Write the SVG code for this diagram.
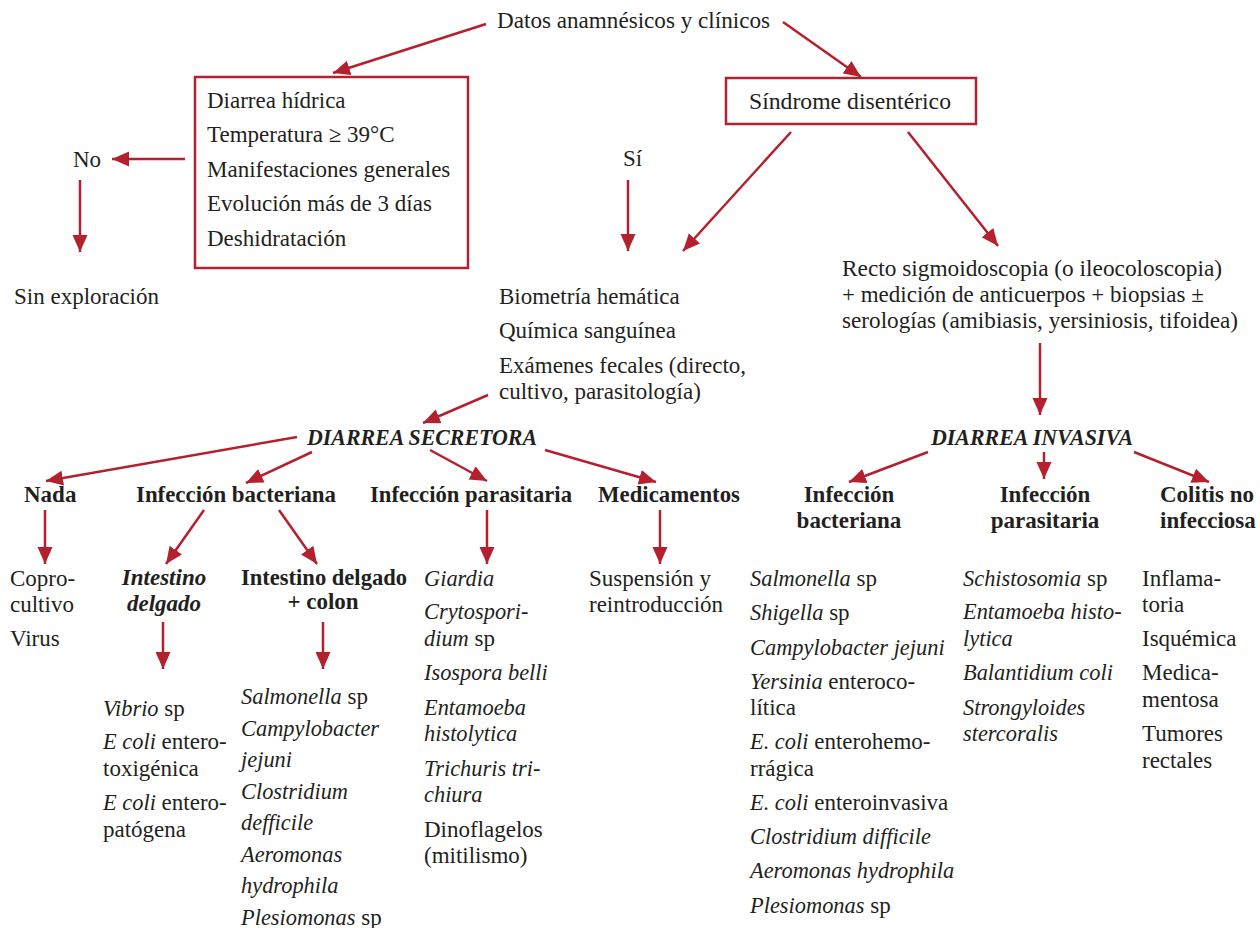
<svg xmlns="http://www.w3.org/2000/svg" width="1260" height="928" viewBox="0 0 1260 928">
  <style>
    text { font-family: "Liberation Serif", "Times New Roman", serif; font-size: 23px; fill: #231f20; }
    .i { font-style: italic; font-size: 22.4px; }
    .b { font-weight: bold; }
    .bi { font-weight: bold; font-style: italic; }
    .box { fill: none; stroke: #b5202e; stroke-width: 2.5; }
    .arr { stroke: #b5202e; stroke-width: 2.5; fill: none; marker-end: url(#head); }
  </style>
  <defs>
    <marker id="head" markerUnits="userSpaceOnUse" markerWidth="18" markerHeight="16" refX="17" refY="7.5" orient="auto">
      <path d="M0,0 L17,7.5 L0,15 z" fill="#b5202e"/>
    </marker>
  </defs>
  <rect width="1260" height="928" fill="#ffffff"/>

  <g id="connectors">
    <line class="arr" x1="486" y1="24" x2="333" y2="73"/>
    <line class="arr" x1="783" y1="22" x2="861" y2="77"/>
    <line class="arr" x1="185" y1="159" x2="112" y2="159"/>
    <line class="arr" x1="80" y1="180" x2="80" y2="252"/>
    <line class="arr" x1="628" y1="180" x2="628" y2="251"/>
    <line class="arr" x1="791" y1="132" x2="683" y2="251"/>
    <line class="arr" x1="908" y1="132" x2="998" y2="246"/>
    <line class="arr" x1="1040" y1="343" x2="1040" y2="415"/>
    <line class="arr" x1="488" y1="395" x2="423" y2="423"/>
    <line class="arr" x1="297" y1="437" x2="46" y2="481"/>
    <line class="arr" x1="312" y1="452" x2="246" y2="483"/>
    <line class="arr" x1="430" y1="450" x2="487" y2="481"/>
    <line class="arr" x1="545" y1="450" x2="656" y2="482"/>
    <line class="arr" x1="45" y1="510" x2="45" y2="564"/>
    <line class="arr" x1="204" y1="510" x2="166" y2="564"/>
    <line class="arr" x1="279" y1="510" x2="317" y2="564"/>
    <line class="arr" x1="487" y1="510" x2="487" y2="564"/>
    <line class="arr" x1="660" y1="510" x2="660" y2="564"/>
    <line class="arr" x1="163" y1="622" x2="163" y2="669"/>
    <line class="arr" x1="323" y1="622" x2="323" y2="669"/>
    <line class="arr" x1="928" y1="452" x2="849" y2="482"/>
    <line class="arr" x1="1044" y1="452" x2="1044" y2="479"/>
    <line class="arr" x1="1134" y1="452" x2="1209" y2="482"/>
  </g>

  <g id="datos">
    <text x="497" y="28" textLength="273" lengthAdjust="spacingAndGlyphs">Datos anamnésicos y clínicos</text>
  </g>

  <g id="criterios">
    <rect class="box" x="195" y="77" width="273" height="191"/>
    <text x="207" y="108">Diarrea hídrica</text>
    <text x="207" y="142">Temperatura ≥ 39°C</text>
    <text x="207" y="177">Manifestaciones generales</text>
    <text x="207" y="211">Evolución más de 3 días</text>
    <text x="207" y="246">Deshidratación</text>
  </g>

  <g id="sindrome">
    <rect class="box" x="726" y="78" width="250" height="46"/>
    <text x="749" y="109" textLength="202" lengthAdjust="spacingAndGlyphs">Síndrome disentérico</text>
  </g>

  <g id="no"><text x="73" y="167">No</text></g>
  <g id="sin-exploracion"><text x="14" y="304">Sin exploración</text></g>
  <g id="si"><text x="623" y="166">Sí</text></g>

  <g id="examenes">
    <text x="499" y="304">Biometría hemática</text>
    <text x="499" y="338">Química sanguínea</text>
    <text x="499" y="373">Exámenes fecales (directo,</text>
    <text x="499" y="399">cultivo, parasitología)</text>
  </g>

  <g id="recto">
    <text x="842" y="276" textLength="380" lengthAdjust="spacingAndGlyphs">Recto sigmoidoscopia (o ileocoloscopia)</text>
    <text x="842" y="302">+ medición de anticuerpos + biopsias ±</text>
    <text x="842" y="328" textLength="396" lengthAdjust="spacingAndGlyphs">serologías (amibiasis, yersiniosis, tifoidea)</text>
  </g>

  <g id="diarrea-secretora">
    <text class="bi" x="307" y="445" textLength="230" lengthAdjust="spacingAndGlyphs">DIARREA SECRETORA</text>
  </g>
  <g id="diarrea-invasiva">
    <text class="bi" x="931" y="445" textLength="202" lengthAdjust="spacingAndGlyphs">DIARREA INVASIVA</text>
  </g>

  <g id="nada">
    <text class="b" x="24" y="502">Nada</text>
    <text x="10" y="586">Copro-</text>
    <text x="10" y="612">cultivo</text>
    <text x="10" y="646">Virus</text>
  </g>

  <g id="infeccion-bacteriana-s">
    <text class="b" x="136" y="502" textLength="200" lengthAdjust="spacingAndGlyphs">Infección bacteriana</text>
  </g>

  <g id="intestino-delgado">
    <text class="bi" x="164" y="585" text-anchor="middle">Intestino</text>
    <text class="bi" x="164" y="611" text-anchor="middle">delgado</text>
    <text x="103" y="716"><tspan class="i">Vibrio</tspan> sp</text>
    <text x="103" y="749"><tspan class="i">E coli</tspan> entero-</text>
    <text x="103" y="776">toxigénica</text>
    <text x="103" y="810"><tspan class="i">E coli</tspan> entero-</text>
    <text x="103" y="837">patógena</text>
  </g>

  <g id="intestino-colon">
    <text class="b" x="324" y="585" text-anchor="middle" textLength="166" lengthAdjust="spacingAndGlyphs">Intestino delgado</text>
    <text class="b" x="323" y="609" text-anchor="middle">+ colon</text>
    <text x="241" y="704"><tspan class="i">Salmonella</tspan> sp</text>
    <text class="i" x="241" y="736">Campylobacter</text>
    <text class="i" x="241" y="767">jejuni</text>
    <text class="i" x="241" y="799">Clostridium</text>
    <text class="i" x="241" y="830">defficile</text>
    <text class="i" x="241" y="862">Aeromonas</text>
    <text class="i" x="241" y="893">hydrophila</text>
    <text x="241" y="925"><tspan class="i">Plesiomonas</tspan> sp</text>
  </g>

  <g id="infeccion-parasitaria-s">
    <text class="b" x="370" y="502" textLength="202" lengthAdjust="spacingAndGlyphs">Infección parasitaria</text>
    <text class="i" x="424" y="586">Giardia</text>
    <text class="i" x="424" y="619">Crytospori-</text>
    <text x="424" y="646"><tspan class="i">dium</tspan> sp</text>
    <text class="i" x="424" y="680">Isospora belli</text>
    <text class="i" x="424" y="715">Entamoeba</text>
    <text class="i" x="424" y="741">histolytica</text>
    <text class="i" x="424" y="776">Trichuris tri-</text>
    <text class="i" x="424" y="802">chiura</text>
    <text x="424" y="837">Dinoflagelos</text>
    <text x="424" y="863">(mitilismo)</text>
  </g>

  <g id="medicamentos">
    <text class="b" x="598" y="502" textLength="142" lengthAdjust="spacingAndGlyphs">Medicamentos</text>
    <text x="589" y="586">Suspensión y</text>
    <text x="589" y="612">reintroducción</text>
  </g>

  <g id="infeccion-bacteriana-i">
    <text class="b" x="849" y="502" text-anchor="middle">Infección</text>
    <text class="b" x="849" y="528" text-anchor="middle">bacteriana</text>
    <text x="750" y="586"><tspan class="i">Salmonella</tspan> sp</text>
    <text x="750" y="620"><tspan class="i">Shigella</tspan> sp</text>
    <text class="i" x="750" y="655">Campylobacter jejuni</text>
    <text x="750" y="689"><tspan class="i">Yersinia</tspan> enteroco-</text>
    <text x="750" y="715">lítica</text>
    <text x="750" y="749"><tspan class="i">E. coli</tspan> enterohemo-</text>
    <text x="750" y="776">rrágica</text>
    <text x="750" y="810"><tspan class="i">E. coli</tspan> enteroinvasiva</text>
    <text class="i" x="750" y="844">Clostridium difficile</text>
    <text class="i" x="750" y="878">Aeromonas hydrophila</text>
    <text x="750" y="913"><tspan class="i">Plesiomonas</tspan> sp</text>
  </g>

  <g id="infeccion-parasitaria-i">
    <text class="b" x="1045" y="502" text-anchor="middle">Infección</text>
    <text class="b" x="1045" y="528" text-anchor="middle">parasitaria</text>
    <text x="963" y="586"><tspan class="i">Schistosomia</tspan> sp</text>
    <text class="i" x="963" y="619">Entamoeba histo-</text>
    <text class="i" x="963" y="646">lytica</text>
    <text class="i" x="963" y="680">Balantidium coli</text>
    <text class="i" x="963" y="715">Strongyloides</text>
    <text class="i" x="963" y="741">stercoralis</text>
  </g>

  <g id="colitis">
    <text class="b" x="1160" y="502">Colitis no</text>
    <text class="b" x="1160" y="528">infecciosa</text>
    <text x="1142" y="586">Inflama-</text>
    <text x="1142" y="612">toria</text>
    <text x="1142" y="646">Isquémica</text>
    <text x="1142" y="680">Medica-</text>
    <text x="1142" y="707">mentosa</text>
    <text x="1142" y="741">Tumores</text>
    <text x="1142" y="768">rectales</text>
  </g>
</svg>
